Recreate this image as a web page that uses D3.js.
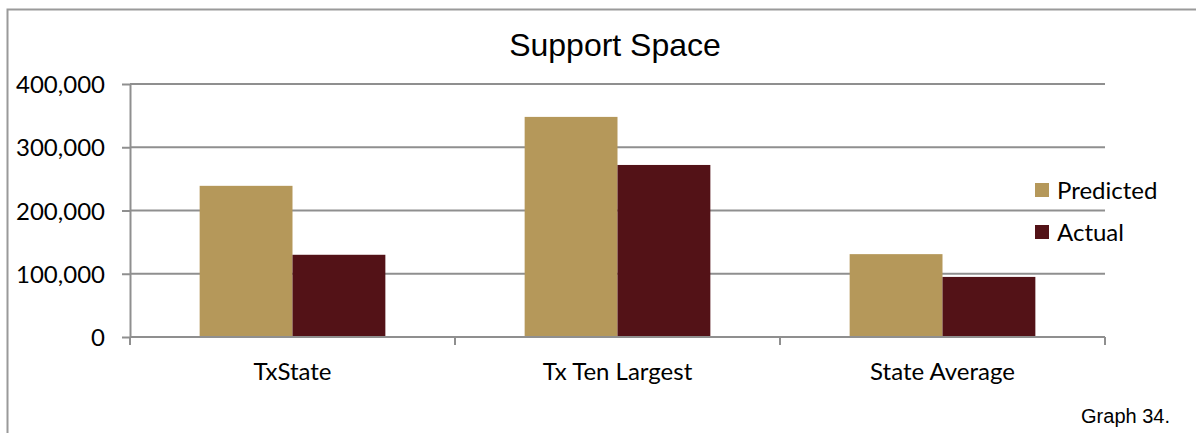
<!DOCTYPE html>
<html>
<head>
<meta charset="utf-8">
<script src="https://cdn.jsdelivr.net/npm/d3@7"></script>
<style>
  body { margin: 0; background: #fff; }
  svg { display: block; }
</style>
</head>
<body>
<div id="chart"></div>
<script>
// data
const categories = ["TxState", "Tx Ten Largest", "State Average"];
const seriesNames = ["Predicted", "Actual"];
const predicted = [239000, 348000, 131000];
const actual = [130000, 272000, 95000];
const yTicks = [0, 100000, 200000, 300000, 400000];
const colors = ["#b5985a", "#531217"];

const W = 1196, H = 433;
const margin = {top: 84, right: 91, bottom: 96, left: 130};
const innerW = W - margin.left - margin.right;
const innerH = H - margin.top - margin.bottom;
const labelFont = 'Lato, "Open Sans", sans-serif';

const svg = d3.select('#chart').append('svg')
    .attr('width', W)
    .attr('height', H);

// outer frame (only top and left edges show in the crop)
svg.append('path')
    .attr('d', 'M7.5,' + H + 'V9.5H' + W)
    .attr('fill', 'none')
    .attr('stroke', '#9a9a9a')
    .attr('stroke-width', 2);

const g = svg.append('g')
    .attr('transform', 'translate(' + margin.left + ',' + margin.top + ')');

const x0 = d3.scaleBand().domain(categories).range([0, innerW]).padding(0);
// Excel gap width 150% -> 0.75 bar width of space on each side
const x1 = d3.scaleBand().domain(seriesNames)
    .range([0, x0.bandwidth()]).paddingInner(0).paddingOuter(0.75);
const y = d3.scaleLinear().domain([0, 400000]).range([innerH, 0]);

// gridlines
g.selectAll('.grid').data(yTicks.filter(d => d > 0)).enter().append('line')
    .attr('x1', 0).attr('x2', innerW)
    .attr('y1', d => y(d)).attr('y2', d => y(d))
    .attr('stroke', '#8f8f8f').attr('stroke-width', 2);

const rows = categories.map((c, i) => ({cat: c, vals: [predicted[i], actual[i]]}));

const groups = g.selectAll('.cat').data(rows).enter().append('g')
    .attr('transform', d => 'translate(' + x0(d.cat) + ',0)');

groups.selectAll('rect')
    .data(d => d.vals.map((v, j) => ({name: seriesNames[j], v: v, j: j})))
    .enter().append('rect')
    .attr('x', d => x1(d.name))
    .attr('width', x1.bandwidth())
    .attr('y', d => y(d.v))
    .attr('height', d => innerH - y(d.v))
    .attr('fill', d => colors[d.j]);

// y axis
const yAxis = g.append('g')
    .call(d3.axisLeft(y).tickValues(yTicks).tickFormat(d3.format(',')).tickSize(8).tickSizeOuter(0));
yAxis.select('.domain').attr('stroke', '#8f8f8f').attr('stroke-width', 2);
yAxis.selectAll('.tick line').attr('stroke', '#8f8f8f').attr('stroke-width', 2);
yAxis.selectAll('.tick text')
    .attr('x', -25)
    .attr('dy', '0.36em')
    .style('font-family', labelFont)
    .style('font-size', '24px')
    .attr('fill', '#000');

// x axis with category boundary ticks
const xAxis = g.append('g').attr('transform', 'translate(0,' + innerH + ')');
xAxis.append('line')
    .attr('x1', 0).attr('x2', innerW)
    .attr('stroke', '#8f8f8f').attr('stroke-width', 2);
const bounds = categories.map(c => x0(c)).concat([innerW]);
xAxis.selectAll('.bt').data(bounds).enter().append('line')
    .attr('x1', d => d).attr('x2', d => d)
    .attr('y1', 0).attr('y2', 8)
    .attr('stroke', '#8f8f8f').attr('stroke-width', 2);
xAxis.selectAll('.lbl').data(categories).enter().append('text')
    .attr('x', d => x0(d) + x0.bandwidth() / 2)
    .attr('y', 43)
    .attr('text-anchor', 'middle')
    .style('font-family', labelFont)
    .style('font-size', '24px')
    .text(d => d);

// title
svg.append('text')
    .attr('x', 615).attr('y', 56)
    .attr('text-anchor', 'middle')
    .style('font-family', '"Liberation Sans", Arial, sans-serif')
    .style('font-size', '32px')
    .text('Support Space');

// legend
const legend = svg.append('g').attr('transform', 'translate(1035,183)');
seriesNames.forEach((s, i) => {
    legend.append('rect')
        .attr('x', 0).attr('y', i * 42)
        .attr('width', 14).attr('height', 14)
        .attr('fill', colors[i]);
    legend.append('text')
        .attr('x', 22).attr('y', i * 42 + 7)
        .attr('dy', '0.36em')
        .style('font-family', labelFont)
        .style('font-size', '24px')
        .text(s);
});

// footnote
svg.append('text')
    .attr('x', 1170).attr('y', 423)
    .attr('text-anchor', 'end')
    .style('font-family', '"Liberation Sans", Arial, sans-serif')
    .style('font-size', '20px')
    .text('Graph 34.');
</script>
</body>
</html>
